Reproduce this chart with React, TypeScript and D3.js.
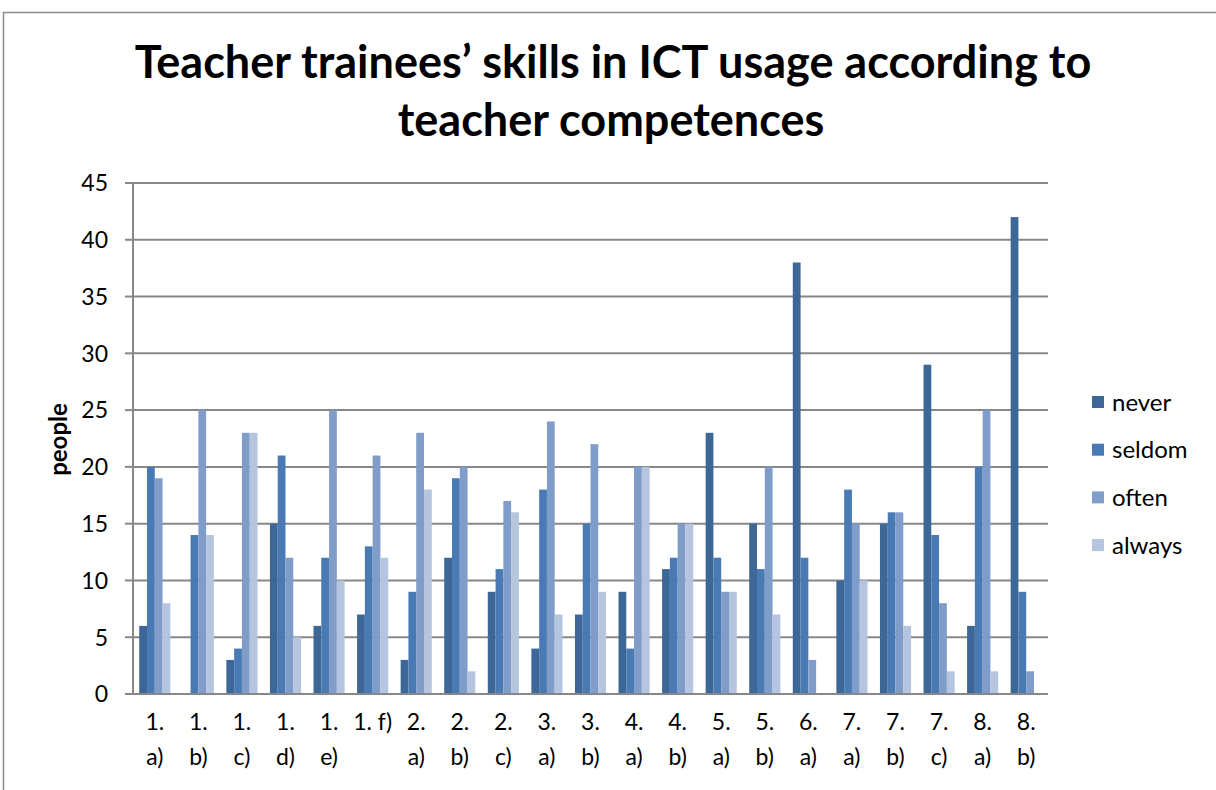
import React from "react";
import * as d3 from "d3";

// categories (tick labels, line breaks as shown under the axis)
const categories = [
  "1.\na)", "1.\nb)", "1.\nc)", "1.\nd)", "1.\ne)", "1. f)",
  "2.\na)", "2.\nb)", "2.\nc)", "3.\na)", "3.\nb)", "4.\na)", "4.\nb)",
  "5.\na)", "5.\nb)", "6.\na)", "7.\na)", "7.\nb)", "7.\nc)", "8.\na)", "8.\nb)",
];

const never = [6, 0, 3, 15, 6, 7, 3, 12, 9, 4, 7, 9, 11, 23, 15, 38, 10, 15, 29, 6, 42];
const seldom = [20, 14, 4, 21, 12, 13, 9, 19, 11, 18, 15, 4, 12, 12, 11, 12, 18, 16, 14, 20, 9];
const often = [19, 25, 23, 12, 25, 21, 23, 20, 17, 24, 22, 20, 15, 9, 20, 3, 15, 16, 8, 25, 2];
const always = [8, 14, 23, 5, 10, 12, 18, 2, 16, 7, 9, 20, 15, 9, 7, 0, 10, 6, 2, 2, 0];

const seriesNames = ["never", "seldom", "often", "always"];
const seriesColors = ["#3d6797", "#4a7ab4", "#7f9dc8", "#b5c4df"];

const yTicks = [0, 5, 10, 15, 20, 25, 30, 35, 40, 45];

const FONT = "Lato, 'Open Sans', sans-serif";

export default function App() {
  const W = 1216;
  const H = 790;
  const left = 133;
  const right = 1048;
  const top = 183;
  const bottom = 694;

  const series = [never, seldom, often, always];

  const gap = 1.6 / 5.6;
  const x = d3.scaleBand<string>()
    .domain(categories)
    .range([left, right])
    .paddingInner(gap)
    .paddingOuter(gap / 2);

  const x1 = d3.scaleBand<string>()
    .domain(seriesNames)
    .range([0, x.bandwidth()])
    .padding(0);

  const y = d3.scaleLinear().domain([0, 45]).range([bottom, top]);

  const gridColor = "#878787";

  return (
    <div style={{ position: "absolute", left: 0, top: 0 }}>
      <svg width={W} height={H} style={{ display: "block", background: "#fff" }}>
        {/* chart border */}
        <rect x={3.5} y={12.5} width={1400} height={1000} fill="none" stroke="#8c8c8c" strokeWidth={1.5} />

        {/* title */}
        <text x={613} y={78} textAnchor="middle" fontFamily={FONT} fontWeight="bold" fontSize={45} fill="#000">
          Teacher trainees’ skills in ICT usage according to
        </text>
        <text x={611} y={136} textAnchor="middle" fontFamily={FONT} fontWeight="bold" fontSize={45} fill="#000">
          teacher competences
        </text>

        {/* gridlines + y ticks */}
        {yTicks.map(t => (
          <g key={t}>
            <line x1={left} x2={right} y1={y(t)} y2={y(t)} stroke={gridColor} strokeWidth={2} />
            <line x1={left - 8} x2={left} y1={y(t)} y2={y(t)} stroke={gridColor} strokeWidth={2} />
            <text x={108} y={y(t)} dy="0.36em" textAnchor="end" fontFamily={FONT} fontSize={23} fill="#000">
              {t}
            </text>
          </g>
        ))}

        {/* y axis line */}
        <line x1={left} x2={left} y1={top} y2={bottom} stroke={gridColor} strokeWidth={2} />

        {/* y axis title */}
        <text
          transform={`translate(67, ${(top + bottom) / 2 + 1}) rotate(-90)`}
          textAnchor="middle"
          fontFamily={FONT}
          fontWeight="bold"
          fontSize={24}
          fill="#000"
        >
          people
        </text>

        {/* bars */}
        {categories.map((c, i) => (
          <g key={c} transform={`translate(${x(c)},0)`}>
            {series.map((s, j) =>
              s[i] > 0 ? (
                <rect
                  key={j}
                  x={x1(seriesNames[j])}
                  y={y(s[i])}
                  width={x1.bandwidth()}
                  height={y(0) - y(s[i])}
                  fill={seriesColors[j]}
                />
              ) : null
            )}
          </g>
        ))}

        {/* x axis line */}
        <line x1={left} x2={right} y1={bottom} y2={bottom} stroke={gridColor} strokeWidth={2} />

        {/* x tick labels */}
        {categories.map(c => {
          const lines = c.split("\n");
          const cx = (x(c) as number) + x.bandwidth() / 2;
          return (
            <text key={c} x={cx} y={730} textAnchor="middle" fontFamily={FONT} fontSize={23} fill="#000">
              {lines.map((l, k) => (
                <tspan key={k} x={cx} dy={k === 0 ? 0 : 35}>{l}</tspan>
              ))}
            </text>
          );
        })}

        {/* legend */}
        {seriesNames.map((n, j) => {
          const ly = 402 + j * 47.7;
          return (
            <g key={n}>
              <rect x={1092} y={ly - 6} width={12} height={12} fill={seriesColors[j]} />
              <text x={1112} y={ly} dy="0.36em" fontFamily={FONT} fontSize={24} fill="#000">{n}</text>
            </g>
          );
        })}
      </svg>
    </div>
  );
}
